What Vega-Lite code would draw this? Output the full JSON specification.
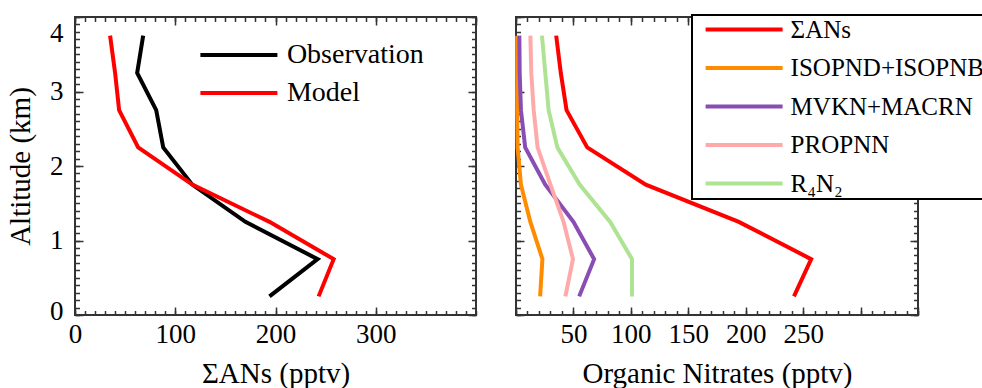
{
  "$schema": "https://vega.github.io/schema/vega-lite/v6.json",
  "padding": {"left": 5, "top": 13, "right": 0, "bottom": 0},
  "background": "white",
  "config": {
    "font": "Times New Roman",
    "style": {"guide-label": {"font": "Times New Roman"}, "guide-title": {"font": "Times New Roman"}},
    "view": {"stroke": "#333333", "strokeWidth": 2},
    "axis": {"domain": false, "grid": false, "tickColor": "#333333", "tickWidth": 1.5, "labelColor": "#000000", "titleColor": "#000000", "labelFont": "Times New Roman", "titleFont": "Times New Roman", "labelFontSize": 27, "titleFontSize": 29, "titleFontWeight": "normal", "labelFlush": false, "labelOverlap": false},
    "legend": {"labelFont": "Liberation Serif, Times New Roman, serif", "labelFontSize": 28, "labelColor": "#000000", "labelLimit": 400}
  },
  "datasets": {
    "left": [
      {"series": "Observation", "alt": 0.25, "value": 194},
      {"series": "Observation", "alt": 0.75, "value": 242},
      {"series": "Observation", "alt": 1.25, "value": 170},
      {"series": "Observation", "alt": 1.75, "value": 117},
      {"series": "Observation", "alt": 2.25, "value": 88},
      {"series": "Observation", "alt": 2.75, "value": 81},
      {"series": "Observation", "alt": 3.25, "value": 62},
      {"series": "Observation", "alt": 3.75, "value": 68},
      {"series": "Model", "alt": 0.25, "value": 243},
      {"series": "Model", "alt": 0.75, "value": 258},
      {"series": "Model", "alt": 1.25, "value": 194},
      {"series": "Model", "alt": 1.75, "value": 117},
      {"series": "Model", "alt": 2.25, "value": 63},
      {"series": "Model", "alt": 2.75, "value": 44},
      {"series": "Model", "alt": 3.25, "value": 40},
      {"series": "Model", "alt": 3.75, "value": 35}
    ],
    "right": [
      {"series": "ΣANs", "alt": 0.25, "value": 242},
      {"series": "ΣANs", "alt": 0.75, "value": 257},
      {"series": "ΣANs", "alt": 1.25, "value": 194},
      {"series": "ΣANs", "alt": 1.75, "value": 113},
      {"series": "ΣANs", "alt": 2.25, "value": 62},
      {"series": "ΣANs", "alt": 2.75, "value": 44},
      {"series": "ΣANs", "alt": 3.25, "value": 39},
      {"series": "ΣANs", "alt": 3.75, "value": 35},
      {"series": "ISOPND+ISOPNB", "alt": 0.25, "value": 21},
      {"series": "ISOPND+ISOPNB", "alt": 0.75, "value": 23},
      {"series": "ISOPND+ISOPNB", "alt": 1.25, "value": 12.5},
      {"series": "ISOPND+ISOPNB", "alt": 1.75, "value": 4.3},
      {"series": "ISOPND+ISOPNB", "alt": 2.25, "value": 1.4},
      {"series": "ISOPND+ISOPNB", "alt": 2.75, "value": 1},
      {"series": "ISOPND+ISOPNB", "alt": 3.25, "value": 1},
      {"series": "ISOPND+ISOPNB", "alt": 3.75, "value": 1},
      {"series": "MVKN+MACRN", "alt": 0.25, "value": 55},
      {"series": "MVKN+MACRN", "alt": 0.75, "value": 68},
      {"series": "MVKN+MACRN", "alt": 1.25, "value": 50},
      {"series": "MVKN+MACRN", "alt": 1.75, "value": 25.5},
      {"series": "MVKN+MACRN", "alt": 2.25, "value": 8},
      {"series": "MVKN+MACRN", "alt": 2.75, "value": 4.3},
      {"series": "MVKN+MACRN", "alt": 3.25, "value": 3.2},
      {"series": "MVKN+MACRN", "alt": 3.75, "value": 2.9},
      {"series": "PROPNN", "alt": 0.25, "value": 43},
      {"series": "PROPNN", "alt": 0.75, "value": 49.6},
      {"series": "PROPNN", "alt": 1.25, "value": 41.4},
      {"series": "PROPNN", "alt": 1.75, "value": 30},
      {"series": "PROPNN", "alt": 2.25, "value": 18.8},
      {"series": "PROPNN", "alt": 2.75, "value": 15.4},
      {"series": "PROPNN", "alt": 3.25, "value": 13.3},
      {"series": "PROPNN", "alt": 3.75, "value": 12.5},
      {"series": "R₄N₂", "alt": 0.25, "value": 101},
      {"series": "R₄N₂", "alt": 0.75, "value": 101},
      {"series": "R₄N₂", "alt": 1.25, "value": 82},
      {"series": "R₄N₂", "alt": 1.75, "value": 55.4},
      {"series": "R₄N₂", "alt": 2.25, "value": 36},
      {"series": "R₄N₂", "alt": 2.75, "value": 28.4},
      {"series": "R₄N₂", "alt": 3.25, "value": 25.5},
      {"series": "R₄N₂", "alt": 3.75, "value": 22.6}
    ]
  },
  "resolve": {"scale": {"color": "independent"}, "legend": {"color": "independent"}},
  "spacing": 30,
  "hconcat": [
    {
      "width": 401,
      "height": 298,
      "data": {"name": "left"},
      "resolve": {"axis": {"x": "independent", "y": "independent"}},
      "layer": [
        {
          "mark": {"type": "line", "strokeWidth": 4},
          "encoding": {
            "x": {"field": "value", "type": "quantitative", "scale": {"domain": [0, 400], "nice": false},
              "axis": {"orient": "bottom", "values": [0, 100, 200, 300], "tickSize": -8, "labelPadding": 14, "title": "ΣANs (pptv)", "titlePadding": 12, "labelFont": "Times New Roman", "titleFont": "Times New Roman"}},
            "y": {"field": "alt", "type": "quantitative", "scale": {"domain": [0, 4], "nice": false},
              "axis": {"orient": "left", "values": [0, 1, 2, 3, 4], "tickSize": -8, "labelPadding": 20, "title": "Altitude (km)", "titlePadding": 14, "labelFont": "Times New Roman", "titleFont": "Times New Roman",
                "labelOffset": {"condition": [{"test": "datum.value == 4", "value": 16}, {"test": "datum.value == 0", "value": -4}], "value": 0}}},
            "color": {"field": "series", "type": "nominal", "scale": {"domain": ["Observation", "Model"], "range": ["#000000", "#ff0000"]},
              "legend": {"orient": "none", "legendX": 121, "legendY": 24, "title": null, "symbolType": "M-4,0H4", "symbolSize": 370.6, "symbolStrokeWidth": 4, "rowPadding": 10, "symbolOffset": 28.9, "labelOffset": 34, "padding": 0, "labelFontSize": 28}},
            "order": {"field": "alt", "type": "quantitative"}
          }
        },
        {
          "mark": {"type": "point", "opacity": 0},
          "encoding": {
            "x": {"field": "value", "type": "quantitative", "scale": {"domain": [0, 400], "nice": false},
              "axis": {"orient": "bottom", "tickCount": 40, "tickSize": -4.5, "labels": false, "title": null}},
            "y": {"field": "alt", "type": "quantitative", "scale": {"domain": [0, 4], "nice": false},
              "axis": {"orient": "left", "tickCount": 40, "tickSize": -4.5, "labels": false, "title": null}}
          }
        },
        {
          "mark": {"type": "point", "opacity": 0},
          "encoding": {
            "x": {"field": "value", "type": "quantitative", "scale": {"domain": [0, 400], "nice": false},
              "axis": {"orient": "top", "values": [0, 100, 200, 300, 400], "tickSize": -8, "labels": false, "title": null}},
            "y": {"field": "alt", "type": "quantitative", "scale": {"domain": [0, 4], "nice": false},
              "axis": {"orient": "right", "values": [0, 1, 2, 3, 4], "tickSize": -8, "labels": false, "title": null}}
          }
        },
        {
          "mark": {"type": "point", "opacity": 0},
          "encoding": {
            "x": {"field": "value", "type": "quantitative", "scale": {"domain": [0, 400], "nice": false},
              "axis": {"orient": "top", "tickCount": 40, "tickSize": -4.5, "labels": false, "title": null}},
            "y": {"field": "alt", "type": "quantitative", "scale": {"domain": [0, 4], "nice": false},
              "axis": {"orient": "right", "tickCount": 40, "tickSize": -4.5, "labels": false, "title": null}}
          }
        }
      ]
    },
    {
      "width": 402,
      "height": 298,
      "data": {"name": "right"},
      "resolve": {"axis": {"x": "independent", "y": "independent"}},
      "layer": [
        {
          "mark": {"type": "line", "strokeWidth": 4},
          "encoding": {
            "x": {"field": "value", "type": "quantitative", "scale": {"domain": [0, 350], "nice": false},
              "axis": {"orient": "bottom", "values": [0, 50, 100, 150, 200, 250, 300, 350], "labelExpr": "datum.value >= 50 && datum.value <= 250 ? datum.label : ''", "tickSize": -8, "labelPadding": 14, "title": "Organic Nitrates (pptv)", "titlePadding": 12, "labelFont": "Times New Roman", "titleFont": "Times New Roman"}},
            "y": {"field": "alt", "type": "quantitative", "scale": {"domain": [0, 4], "nice": false},
              "axis": {"orient": "left", "values": [0, 1, 2, 3, 4], "tickSize": -8, "labels": false, "title": null}},
            "color": {"field": "series", "type": "nominal", "sort": null,
              "scale": {"domain": ["ΣANs", "ISOPND+ISOPNB", "MVKN+MACRN", "PROPNN", "R₄N₂"], "range": ["#ff0000", "#ff8c00", "#8a4db3", "#ffaaaa", "#aee393"]},
              "legend": {"orient": "none", "legendX": 176, "legendY": -2, "title": null, "symbolType": "M-4,0H4", "symbolSize": 370.6, "symbolStrokeWidth": 4, "rowPadding": 12.5, "symbolOffset": 37.6, "labelOffset": 34, "padding": 2, "labelFontSize": 25, "strokeColor": "#000000", "fillColor": "white",
                "encode": {"legend": {"update": {"strokeWidth": {"value": 2}}}}}},
            "order": {"field": "alt", "type": "quantitative"}
          }
        },
        {
          "mark": {"type": "point", "opacity": 0},
          "encoding": {
            "x": {"field": "value", "type": "quantitative", "scale": {"domain": [0, 350], "nice": false},
              "axis": {"orient": "bottom", "tickCount": 35, "tickSize": -4.5, "labels": false, "title": null}},
            "y": {"field": "alt", "type": "quantitative", "scale": {"domain": [0, 4], "nice": false},
              "axis": {"orient": "left", "tickCount": 40, "tickSize": -4.5, "labels": false, "title": null}}
          }
        },
        {
          "mark": {"type": "point", "opacity": 0},
          "encoding": {
            "x": {"field": "value", "type": "quantitative", "scale": {"domain": [0, 350], "nice": false},
              "axis": {"orient": "top", "values": [0, 50, 100, 150, 200, 250, 300, 350], "tickSize": -8, "labels": false, "title": null}},
            "y": {"field": "alt", "type": "quantitative", "scale": {"domain": [0, 4], "nice": false},
              "axis": {"orient": "right", "values": [0, 1, 2, 3, 4], "tickSize": -8, "labels": false, "title": null}}
          }
        },
        {
          "mark": {"type": "point", "opacity": 0},
          "encoding": {
            "x": {"field": "value", "type": "quantitative", "scale": {"domain": [0, 350], "nice": false},
              "axis": {"orient": "top", "tickCount": 35, "tickSize": -4.5, "labels": false, "title": null}},
            "y": {"field": "alt", "type": "quantitative", "scale": {"domain": [0, 4], "nice": false},
              "axis": {"orient": "right", "tickCount": 40, "tickSize": -4.5, "labels": false, "title": null}}
          }
        }
      ]
    }
  ]
}
